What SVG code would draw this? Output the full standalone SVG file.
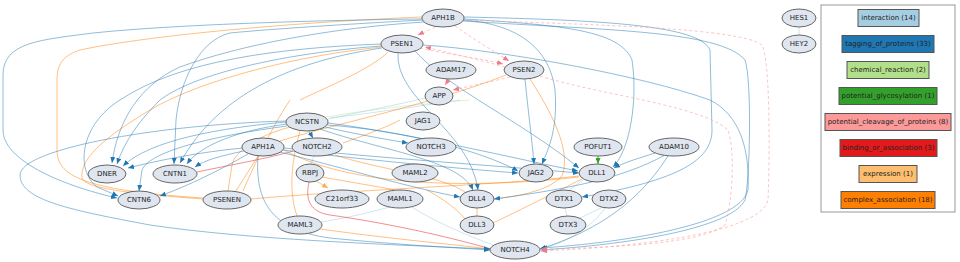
<svg xmlns="http://www.w3.org/2000/svg" width="960" height="262" viewBox="0 0 960 262">
<style>
text{font-family:"DejaVu Sans","Liberation Sans",sans-serif;font-size:7px;fill:#222;text-anchor:middle;dominant-baseline:central}
.n ellipse{fill:#dfe6ef;stroke:#666;stroke-width:1}
.e path{fill:none;stroke-width:0.9}
.tag{stroke:#1f78b4;stroke-opacity:.55;marker-end:url(#ab)}
.cl{stroke:#fb9a99;stroke-opacity:.65;stroke-dasharray:3,2.5;marker-end:url(#ap)}
.red{stroke:#e31a1c;stroke-opacity:.55}
.ca{stroke:#ff7f00;stroke-opacity:.55}
.ex{stroke:#fdbf6f;stroke-opacity:.9;marker-end:url(#ao)}
.int{stroke:#a6cee3;stroke-opacity:.6}
.chem{stroke:#b2df8a;stroke-opacity:.45}
.gly{stroke:#33a02c;marker-end:url(#ag)}
.lg rect{stroke:#555;stroke-width:1}
</style>
<defs>
<marker id="ab" markerWidth="6" markerHeight="5" refX="6" refY="2.5" orient="auto" markerUnits="userSpaceOnUse"><path d="M0,0L6,2.5L0,5z" fill="#1f78b4"/></marker>
<marker id="ap" markerWidth="6" markerHeight="5" refX="6" refY="2.5" orient="auto" markerUnits="userSpaceOnUse"><path d="M0,0L6,2.5L0,5z" fill="#f07a88"/></marker>
<marker id="ao" markerWidth="6" markerHeight="5" refX="6" refY="2.5" orient="auto" markerUnits="userSpaceOnUse"><path d="M0,0L6,2.5L0,5z" fill="#fdae4f"/></marker>
<marker id="ag" markerWidth="6" markerHeight="5" refX="6" refY="2.5" orient="auto" markerUnits="userSpaceOnUse"><path d="M0,0L6,2.5L0,5z" fill="#33a02c"/></marker>
</defs>
<rect width="960" height="262" fill="#fff"/>
<g id="connectors" class="e">
<!-- interaction -->
<path class="int" d="M799,27L799,35"/>
<path class="int" d="M565,208L567,216"/>
<path class="int" d="M603,207L580,218"/>
<path class="int" d="M605,208C590,230 560,245 540,249"/>
<path class="int" d="M390,207C360,215 335,220 321,222"/>
<path class="int" d="M412,207C440,225 475,238 493,245"/>
<path class="int" d="M311,164L314,156"/>
<path class="int" d="M328,119C370,110 410,102 425,98"/>
<path class="int" d="M583,180L568,191"/>
<path class="int" d="M330,118C380,112 420,106 460,100"/>
<!-- chemical -->
<path class="chem" d="M326,117C380,108 420,104 470,100"/>
<!-- complex association -->
<path class="ca" d="M422,17C300,22 150,35 80,50C62,56 57,65 57,80L57,150C57,175 80,190 203,198"/>
<path class="ca" d="M382,47C300,55 200,80 150,110C100,140 80,160 82,178C85,190 150,195 203,199"/>
<path class="ca" d="M290,127C260,135 235,150 232,165L228,191"/>
<path class="ca" d="M258,156L236,191"/>
<path class="ca" d="M506,75C430,105 330,125 280,141"/>
<path class="ca" d="M530,79C550,110 572,150 562,176C548,192 512,197 494,199"/>
<path class="ca" d="M582,179C550,195 510,215 493,223"/>
<path class="ca" d="M579,176C500,185 350,190 251,199"/>
<path class="ca" d="M579,177C500,186 360,192 284,150"/>
<path class="ca" d="M477,208L477,216"/>
<path class="ca" d="M320,229C400,240 460,245 490,249"/>
<path class="ca" d="M297,216C288,190 292,160 300,131"/>
<path class="ca" d="M322,177C350,182 380,187 395,190"/>
<path class="ca" d="M335,155C380,170 440,175 465,192"/>
<path class="ca" d="M290,100C280,115 265,140 243,191"/>
<path class="ca" d="M300,100C320,90 370,70 388,52"/>
<path class="ca" d="M343,143C365,135 385,128 400,120"/>
<path class="ca" d="M427,190C445,200 458,210 465,219"/>
<!-- expression -->
<path class="ex" d="M316,181L328,188"/>
<!-- binding -->
<path class="red" d="M309,182C305,200 310,212 330,215C400,225 460,240 491,249"/>
<path class="red" d="M197,172C230,165 270,158 293,151"/>
<!-- glycosylation -->
<path class="gly" d="M598,156L598,164"/>
<!-- tagging of proteins -->
<path class="tag" d="M422,19C330,20 180,24 93,33C40,40 3,42 3,75L3,130C3,160 60,185 117,198"/>
<path class="tag" d="M423,20C330,25 260,30 230,33C200,40 180,80 176,120L174,164"/>
<path class="tag" d="M424,22C330,28 240,45 180,67C140,85 118,120 112,163"/>
<path class="tag" d="M381,46C300,52 200,70 160,100C140,120 125,140 117,164"/>
<path class="tag" d="M286,122C220,128 150,140 123,166"/>
<path class="tag" d="M243,148C200,152 160,160 128,168"/>
<path class="tag" d="M382,48C300,60 220,90 180,163"/>
<path class="tag" d="M287,124C240,130 200,145 187,164"/>
<path class="tag" d="M244,151C220,156 205,160 195,167"/>
<path class="tag" d="M463,20C520,24 550,50 555,90C558,130 548,150 542,164"/>
<path class="tag" d="M525,79C528,110 532,140 534,164"/>
<path class="tag" d="M327,125C400,130 480,150 518,171"/>
<path class="tag" d="M283,150C350,158 450,168 518,173"/>
<path class="tag" d="M464,19C560,25 620,30 632,60C638,100 630,150 613,167"/>
<path class="tag" d="M655,153C640,158 625,162 614,168"/>
<path class="tag" d="M415,51C450,90 520,120 579,168"/>
<path class="tag" d="M328,123C420,135 520,160 578,171"/>
<path class="tag" d="M284,148C380,158 500,166 579,173"/>
<path class="tag" d="M320,129C380,150 460,160 473,190"/>
<path class="tag" d="M398,53C395,100 470,130 478,190"/>
<path class="tag" d="M280,152C350,170 420,190 460,197"/>
<path class="tag" d="M665,155C620,180 560,190 494,199"/>
<path class="tag" d="M464,17C600,20 700,25 710,50L712,130C712,160 680,180 582,197"/>
<path class="tag" d="M463,21C600,30 720,30 745,60C752,80 750,180 745,200C730,230 620,245 541,250"/>
<path class="tag" d="M423,45C500,50 640,75 710,100C740,115 750,150 748,190C740,225 620,243 541,248"/>
<path class="tag" d="M668,156C640,200 600,230 540,249"/>
<path class="tag" d="M286,121C150,125 20,150 20,175C20,200 70,210 150,225C250,240 400,245 490,249"/>
<path class="tag" d="M258,156C255,200 270,230 330,238C400,245 460,248 490,250"/>
<path class="tag" d="M309,131L313,138"/>
<path class="tag" d="M325,127C360,135 390,140 408,143"/>
<path class="tag" d="M248,154C220,170 190,185 160,196"/>
<path class="tag" d="M287,126C220,135 150,150 142,170L139,191"/>
<path class="tag" d="M381,44C280,48 180,60 120,100C80,125 75,170 97,187L118,196"/>
<!-- potential cleavage -->
<path class="cl" d="M435,27C430,30 422,33 418,35"/>
<path class="cl" d="M455,26C475,40 495,52 509,61"/>
<path class="cl" d="M420,48C450,55 480,58 503,64"/>
<path class="cl" d="M505,67C480,60 450,53 425,47"/>
<path class="cl" d="M449,79L445,85"/>
<path class="cl" d="M510,77C490,82 470,86 453,90"/>
<path class="cl" d="M464,20C600,25 740,28 762,45C770,60 770,150 768,200C760,235 620,248 541,251"/>
<path class="cl" d="M540,76C600,95 700,105 728,130C735,150 733,200 725,225C700,245 600,248 541,249"/>
</g>
<g id="APH1B" class="n"><ellipse cx="443" cy="18" rx="21" ry="9"/><text x="443" y="18">APH1B</text></g>
<g id="PSEN1" class="n"><ellipse cx="402" cy="44" rx="21" ry="9"/><text x="402" y="44">PSEN1</text></g>
<g id="ADAM17" class="n"><ellipse cx="451" cy="70" rx="25" ry="9"/><text x="451" y="70">ADAM17</text></g>
<g id="APP" class="n"><ellipse cx="439" cy="96" rx="14" ry="9"/><text x="439" y="96">APP</text></g>
<g id="PSEN2" class="n"><ellipse cx="524" cy="70" rx="20" ry="9"/><text x="524" y="70">PSEN2</text></g>
<g id="JAG1" class="n"><ellipse cx="423" cy="121" rx="17" ry="9"/><text x="423" y="121">JAG1</text></g>
<g id="HES1" class="n"><ellipse cx="799" cy="18" rx="17" ry="9"/><text x="799" y="18">HES1</text></g>
<g id="HEY2" class="n"><ellipse cx="799" cy="44" rx="17" ry="9"/><text x="799" y="44">HEY2</text></g>
<g id="NCSTN" class="n"><ellipse cx="307" cy="122" rx="21" ry="9"/><text x="307" y="122">NCSTN</text></g>
<g id="APH1A" class="n"><ellipse cx="263" cy="147" rx="21" ry="9"/><text x="263" y="147">APH1A</text></g>
<g id="NOTCH2" class="n"><ellipse cx="317" cy="147" rx="25" ry="9"/><text x="317" y="147">NOTCH2</text></g>
<g id="NOTCH3" class="n"><ellipse cx="431" cy="147" rx="25" ry="9"/><text x="431" y="147">NOTCH3</text></g>
<g id="POFUT1" class="n"><ellipse cx="598" cy="147" rx="24" ry="9"/><text x="598" y="147">POFUT1</text></g>
<g id="ADAM10" class="n"><ellipse cx="674" cy="147" rx="25" ry="9"/><text x="674" y="147">ADAM10</text></g>
<g id="DNER" class="n"><ellipse cx="107" cy="174" rx="19" ry="9"/><text x="107" y="174">DNER</text></g>
<g id="CNTN1" class="n"><ellipse cx="175" cy="174" rx="22" ry="9"/><text x="175" y="174">CNTN1</text></g>
<g id="RBPJ" class="n"><ellipse cx="310" cy="173" rx="14" ry="9"/><text x="310" y="173">RBPJ</text></g>
<g id="MAML2" class="n"><ellipse cx="415" cy="173" rx="23" ry="9"/><text x="415" y="173">MAML2</text></g>
<g id="JAG2" class="n"><ellipse cx="536" cy="173" rx="17" ry="9"/><text x="536" y="173">JAG2</text></g>
<g id="DLL1" class="n"><ellipse cx="597" cy="173" rx="18" ry="9"/><text x="597" y="173">DLL1</text></g>
<g id="CNTN6" class="n"><ellipse cx="139" cy="200" rx="21" ry="9"/><text x="139" y="200">CNTN6</text></g>
<g id="PSENEN" class="n"><ellipse cx="227" cy="200" rx="24" ry="9"/><text x="227" y="200">PSENEN</text></g>
<g id="C21orf33" class="n"><ellipse cx="342" cy="199" rx="27" ry="9"/><text x="342" y="199">C21orf33</text></g>
<g id="MAML1" class="n"><ellipse cx="400" cy="199" rx="23" ry="9"/><text x="400" y="199">MAML1</text></g>
<g id="DLL4" class="n"><ellipse cx="477" cy="199" rx="17" ry="9"/><text x="477" y="199">DLL4</text></g>
<g id="DTX1" class="n"><ellipse cx="564" cy="199" rx="18" ry="9"/><text x="564" y="199">DTX1</text></g>
<g id="DTX2" class="n"><ellipse cx="609" cy="199" rx="17" ry="9"/><text x="609" y="199">DTX2</text></g>
<g id="MAML3" class="n"><ellipse cx="300" cy="225" rx="22" ry="9"/><text x="300" y="225">MAML3</text></g>
<g id="DLL3" class="n"><ellipse cx="477" cy="225" rx="17" ry="9"/><text x="477" y="225">DLL3</text></g>
<g id="DTX3" class="n"><ellipse cx="568" cy="225" rx="18" ry="9"/><text x="568" y="225">DTX3</text></g>
<g id="NOTCH4" class="n"><ellipse cx="515" cy="250" rx="25" ry="9"/><text x="515" y="250">NOTCH4</text></g>
<g id="legend" class="lg">
<rect x="821" y="5" width="134" height="207" fill="#fff" style="stroke:#999"/>
<rect x="858" y="9.5" width="61" height="17" fill="#a6cee3"/><text x="888.5" y="18">interaction (14)</text>
<rect x="842" y="35.5" width="92" height="17" fill="#1f78b4"/><text x="888" y="44">tagging_of_proteins (33)</text>
<rect x="847" y="61.5" width="82" height="17" fill="#b2df8a"/><text x="888" y="70">chemical_reaction (2)</text>
<rect x="839" y="87.5" width="98" height="17" fill="#33a02c"/><text x="888" y="96">potential_glycosylation (1)</text>
<rect x="825" y="113.5" width="126" height="17" fill="#fb9a99"/><text x="888" y="122">potential_cleavage_of_proteins (8)</text>
<rect x="840" y="139.5" width="97" height="17" fill="#e31a1c"/><text x="888.5" y="148">binding_or_association (3)</text>
<rect x="859" y="165.5" width="58" height="17" fill="#fdbf6f"/><text x="888" y="174">expression (1)</text>
<rect x="841" y="191.5" width="94" height="17" fill="#ff7f00"/><text x="888" y="200">complex_association (18)</text>
</g>
</svg>
